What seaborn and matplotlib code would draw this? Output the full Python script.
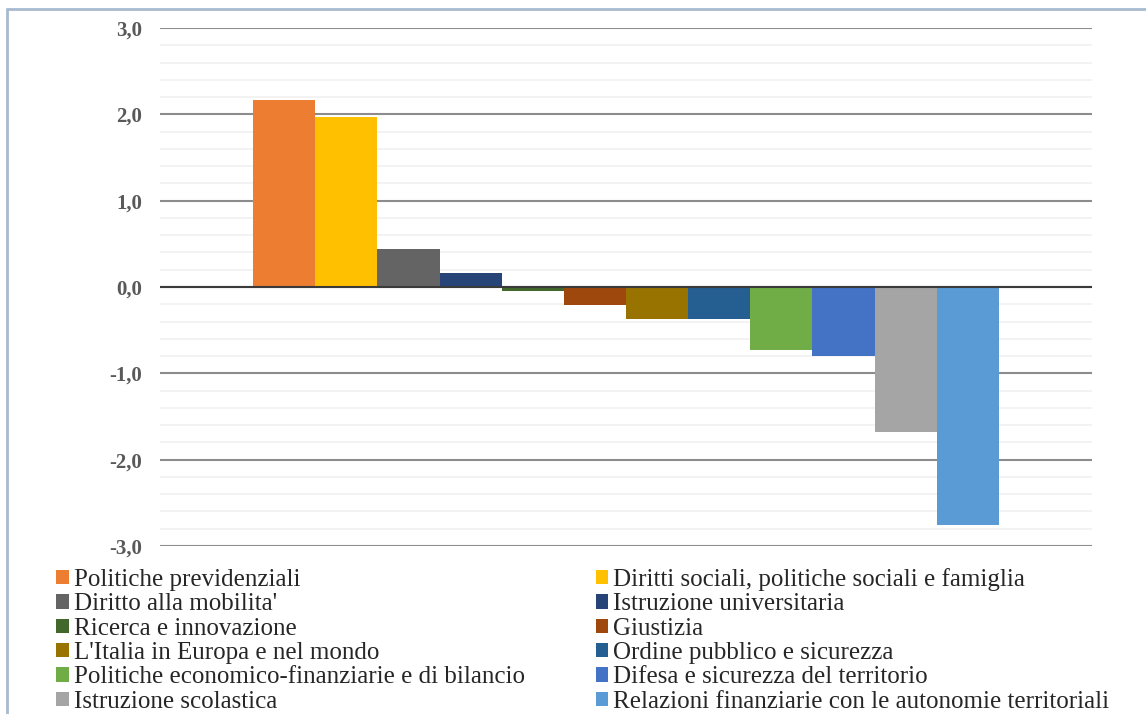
import pandas as pd
import matplotlib
matplotlib.use("Agg")
import matplotlib.pyplot as plt
import seaborn as sns
from matplotlib.lines import Line2D
from matplotlib.patches import Patch
from matplotlib.ticker import FixedLocator, MultipleLocator, FuncFormatter

# data
categories = ["Politiche previdenziali",
              "Diritti sociali, politiche sociali e famiglia",
              "Diritto alla mobilita'",
              "Istruzione universitaria",
              "Ricerca e innovazione",
              "Giustizia",
              "L'Italia in Europa e nel mondo",
              "Ordine pubblico e sicurezza",
              "Politiche economico-finanziarie e di bilancio",
              "Difesa e sicurezza del territorio",
              "Istruzione scolastica",
              "Relazioni finanziarie con le autonomie territoriali"]
values = [2.17, 1.97, 0.44, 0.16, -0.05, -0.21, -0.37, -0.37, -0.73, -0.80, -1.68, -2.76]
colors = ["#ED7D31", "#FFC000", "#646464", "#264478", "#43682B", "#9E480E",
          "#997300", "#255E91", "#70AD47", "#4472C4", "#A5A5A5", "#5B9BD5"]
y_ticks = [-3, -2, -1, 0, 1, 2, 3]

df = pd.DataFrame({"group": [""] * len(categories), "Missione": categories, "value": values})
palette = dict(zip(categories, colors))

sns.set_style("white")
plt.rcParams["font.family"] = ["Liberation Serif", "DejaVu Serif"]

fig = plt.figure(figsize=(11.46, 7.14), dpi=100)
ax = fig.add_axes([160 / 1146, 1 - 546 / 714, (1092 - 160) / 1146, (546 - 28) / 714])

sns.barplot(data=df, x="group", y="value", hue="Missione", hue_order=categories,
            palette=palette, width=0.8, linewidth=0, saturation=1, ax=ax, legend=False)

ax.set_xlim(-0.5, 0.5)
ax.set_ylim(-3, 3)
ax.yaxis.set_major_locator(FixedLocator(y_ticks))
ax.yaxis.set_minor_locator(MultipleLocator(0.2))
ax.yaxis.set_major_formatter(FuncFormatter(lambda v, p: f"{v:.1f}".replace(".", ",")))
ax.grid(axis="y", which="major", color="#8C8C8C", lw=1.5, zorder=0)
ax.grid(axis="y", which="minor", color="#F2F2F2", lw=1.3, zorder=0)
ax.set_axisbelow(True)
ax.axhline(0, color="#3A3A3A", lw=1.5, zorder=3)
ax.tick_params(axis="y", which="both", length=0, pad=13, labelsize=15, labelcolor="#595959")
for lab in ax.get_yticklabels():
    lab.set_fontweight("bold")
ax.set_xticks([])
ax.set_xlabel("")
ax.set_ylabel("")
for s in ax.spines.values():
    s.set_visible(False)

# legend: two columns filled row by row
order = list(range(0, 12, 2)) + list(range(1, 12, 2))
handles = [Patch(facecolor=colors[i], edgecolor="none") for i in order]
labels = [categories[i] for i in order]
fig.legend(handles, labels, ncol=2, loc="upper left", bbox_to_anchor=(56 / 1146, 1 - 568 / 714),
           frameon=False, fontsize=18, handlelength=0.5, handleheight=0.5, handletextpad=0.2,
           labelspacing=0.095, columnspacing=2.85, borderaxespad=0, borderpad=0)

# chart frame
fig.add_artist(Line2D([7 / 1146, 7 / 1146], [0, 1 - 9 / 714], transform=fig.transFigure,
                      color="#A8BACF", lw=2))
fig.add_artist(Line2D([7 / 1146, 1], [1 - 9 / 714, 1 - 9 / 714], transform=fig.transFigure,
                      color="#A8BACF", lw=2))

fig.savefig("out.png", dpi=100)
